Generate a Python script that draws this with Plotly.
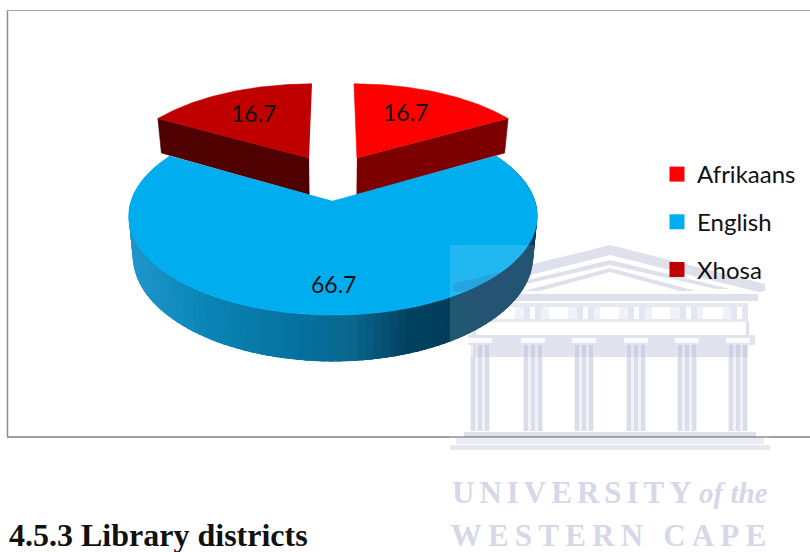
import math
import plotly.graph_objects as go

# ---- data ----
LANGUAGES = ["Afrikaans", "English", "Xhosa"]
VALUES = [16.7, 66.7, 16.7]
TOP_COLORS = ["#ff0000", "#00aeef", "#c00000"]
WALL_COLORS = ["#7c0000", None, "#4f0000"]
EXPLODE = [(0.127, 0.475), (0.0, 0.0), (-0.127, 0.475)]
LABEL_R = [0.66, 0.76, 0.66]
LABEL_SKEW = [-4, 0, 0]
HEADING = "4.5.3 Library districts"
WATERMARK = ["UNIVERSITY", "of the", "WESTERN CAPE"]
GRAD_X = [130, 200, 300, 345, 400, 440, 540]
GRAD_RGB = [(31, 150, 204), (10, 133, 181), (4, 111, 156), (10, 104, 142),
            (2, 66, 98), (2, 62, 92), (2, 60, 90)]

# ---- projection of the tilted disc ----
CX, CY, RX, RY, K, DEPTH, SHRINK = 333, 201, 202, 97, 0.15, 39.4, 0.98


def proj(u, v, low=False):
    s = 1 / (1 + K * v)
    x = RX * u * s
    y = CY - RY * v * s
    if low:
        return CX + x * SHRINK, y + DEPTH * s
    return CX + x, y


def rim(a, off):
    t = math.radians(a)
    return off[0] + math.sin(t), off[1] + math.cos(t)


def poly(xs, ys, color, width=0.6):
    return go.Scatter(x=xs, y=ys, mode="lines", fill="toself", fillcolor=color,
                      line=dict(color=color, width=width), hoverinfo="skip",
                      showlegend=False)


def grad(x):
    if x <= GRAD_X[0]:
        return GRAD_RGB[0]
    for i in range(len(GRAD_X) - 1):
        if x <= GRAD_X[i + 1]:
            f = (x - GRAD_X[i]) / (GRAD_X[i + 1] - GRAD_X[i])
            return tuple(round(a + (b - a) * f) for a, b in zip(GRAD_RGB[i], GRAD_RGB[i + 1]))
    return GRAD_RGB[-1]


total = sum(VALUES)
spans, a0 = [], 0.0
for v in VALUES:
    spans.append((a0, a0 + 360 * v / total))
    a0 += 360 * v / total

fig = go.Figure()
labels = []
for i in [0, 2, 1]:
    start, end = spans[i]
    off = EXPLODE[i]
    n = 120
    angs = [start + (end - start) * j / n for j in range(n + 1)]
    # walls
    if WALL_COLORS[i]:
        other = start if i == 2 else end
        pts = [off, rim(other, off)]
        top = [proj(*p) for p in pts]
        bot = [proj(*p, low=True) for p in pts]
        fig.add_trace(poly([p[0] for p in top + bot[::-1]],
                           [p[1] for p in top + bot[::-1]], WALL_COLORS[i]))
    else:
        for j in range(n):
            # each segment overlaps the next one so no seams show
            p, q = rim(angs[j], off), rim(min(angs[j] + (end - start) * 2.5 / n, end), off)
            a, b = proj(*p), proj(*q)
            c, d = proj(*q, low=True), proj(*p, low=True)
            r, g, bl = grad((a[0] + b[0]) / 2)
            fig.add_trace(poly([a[0], b[0], c[0], d[0]], [a[1], b[1], c[1], d[1]],
                               f"rgb({r},{g},{bl})", width=0))
    # top face
    pts = [off] + [rim(a, off) for a in angs]
    xy = [proj(*p) for p in pts]
    fig.add_trace(poly([p[0] for p in xy], [p[1] for p in xy], TOP_COLORS[i]))
    mid = math.radians((start + end) / 2 + LABEL_SKEW[i])
    lx, ly = proj(off[0] + LABEL_R[i] * math.sin(mid), off[1] + LABEL_R[i] * math.cos(mid))
    labels.append(dict(x=lx, y=ly, text=f"{VALUES[i]:.1f}", showarrow=False,
                       font=dict(family="Lato", size=23, color="#111111")))

# legend entries
for name, col in zip(LANGUAGES, TOP_COLORS):
    fig.add_trace(go.Scatter(x=[None], y=[None], mode="markers", name=name, legendgroup=name,
                             marker=dict(symbol="square", size=15, color=col)))

# ---- frame and watermark ----
WM = "rgba(60,70,140,0.17)"
shapes = [
    dict(type="line", x0=7.5, x1=7.5, y0=10, y1=437, line=dict(color="#8c8c8c", width=1.5), layer="below"),
    dict(type="line", x0=7, x1=810, y0=10.5, y1=10.5, line=dict(color="#a8a8a8", width=1), layer="below"),
    dict(type="line", x0=7, x1=810, y0=437, y1=437, line=dict(color="#7f7f7f", width=1.5), layer="below"),
    dict(type="rect", x0=450, x1=770, y0=245, y1=450, fillcolor="rgba(255,255,255,0.13)", line_width=0, layer="above"),
]


def wm_rect(x0, y0, x1, y1, col=WM):
    shapes.append(dict(type="rect", x0=x0, x1=x1, y0=y0, y1=y1, fillcolor=col, line_width=0, layer="above"))


def wm_path(d):
    shapes.append(dict(type="path", path=d, fillcolor=WM, line_width=0, layer="above"))


# pediment chevrons
wm_path("M453,284 L610,245 L765,284 L765,291 L758,292 L610,255 L462,292 L453,291 Z")
wm_path("M490,289 L610,260 L730,289 L716,289 L610,265 L504,289 Z")
wm_path("M524,291 L610,268 L696,291 L680,291 L610,272 L540,291 Z")
wm_rect(462, 294, 758, 301)
# frieze with its openings
wm_rect(472, 303, 748, 307, "rgba(60,70,140,0.12)")
wm_rect(472, 319, 748, 322, "rgba(60,70,140,0.12)")
for xa in (474, 485, 524, 535, 577, 588, 628, 639, 680, 691, 731, 742):
    wm_rect(xa, 307, xa + 6, 319, "rgba(60,70,140,0.14)")
for xa, xb in ((492, 498), (515, 524), (541, 549), (568, 577), (594, 600), (619, 628),
               (645, 652), (670, 680), (697, 703), (723, 731)):
    wm_rect(xa, 307, xb, 319, "rgba(60,70,140,0.07)")
wm_rect(472, 322, 476, 335)
wm_rect(746, 322, 749, 335)
wm_rect(468, 335, 755, 345, "rgba(60,70,140,0.15)")
wm_rect(474, 345, 748, 357, "rgba(60,70,140,0.15)")
# columns
for cx in (480, 533, 584, 636, 687, 738):
    wm_rect(cx - 12, 338, cx + 12, 343, "rgba(255,255,255,0.85)")
    wm_rect(cx - 10, 357, cx + 10, 431, "rgba(60,70,140,0.07)")
    for dx in (-9, -2, 5):
        wm_rect(cx + dx, 345, cx + dx + 4, 431, "rgba(60,70,140,0.12)")
wm_rect(464, 432, 756, 437)
wm_rect(456, 438, 764, 444, "rgba(60,70,140,0.10)")
wm_rect(450, 445, 770, 450, "rgba(60,70,140,0.13)")

WM_TEXT = "#d5d8e8"
annots = labels + [
    dict(x=7, y=535, text=f"<b>{HEADING}</b>", xanchor="left", showarrow=False,
         font=dict(family="Liberation Serif", size=32, color="#111111")),
    dict(x=475, y=492, text=f"<b>{WATERMARK[0]}</b>", xanchor="left", showarrow=False,
         font=dict(family="Liberation Serif", size=31, color=WM_TEXT)),
    dict(x=697, y=493, text=f"<b><i>{WATERMARK[1]}</i></b>", xanchor="left", showarrow=False,
         font=dict(family="Liberation Serif", size=29, color=WM_TEXT)),
    dict(x=486, y=535, text=f"<b>{WATERMARK[2]}</b>", xanchor="left", showarrow=False,
         font=dict(family="Liberation Serif", size=31, color=WM_TEXT)),
]

fig.update_layout(
    width=810, height=552, margin=dict(l=0, r=0, t=0, b=0),
    paper_bgcolor="white", plot_bgcolor="white",
    xaxis=dict(range=[0, 810], visible=False, fixedrange=True),
    yaxis=dict(range=[552, 0], visible=False, fixedrange=True),
    shapes=shapes, annotations=annots,
    legend=dict(x=657 / 810, y=1 - 152 / 552, xanchor="left", yanchor="top", tracegroupgap=13.5,
                bgcolor="rgba(0,0,0,0)", font=dict(family="Lato", size=24, color="#111111")),
)

page_fix = """
document.body.style.margin='0';
document.documentElement.style.overflow='hidden';
setTimeout(function(){
  var m={'UNIVERSITY':'5px','WESTERN CAPE':'6.2px'};
  document.querySelectorAll('.annotation-text').forEach(function(t){
    if(m[t.textContent]) t.style.letterSpacing=m[t.textContent];
  });
},0);
"""
fig.write_html("out.html", post_script=page_fix, config=dict(displayModeBar=False))
